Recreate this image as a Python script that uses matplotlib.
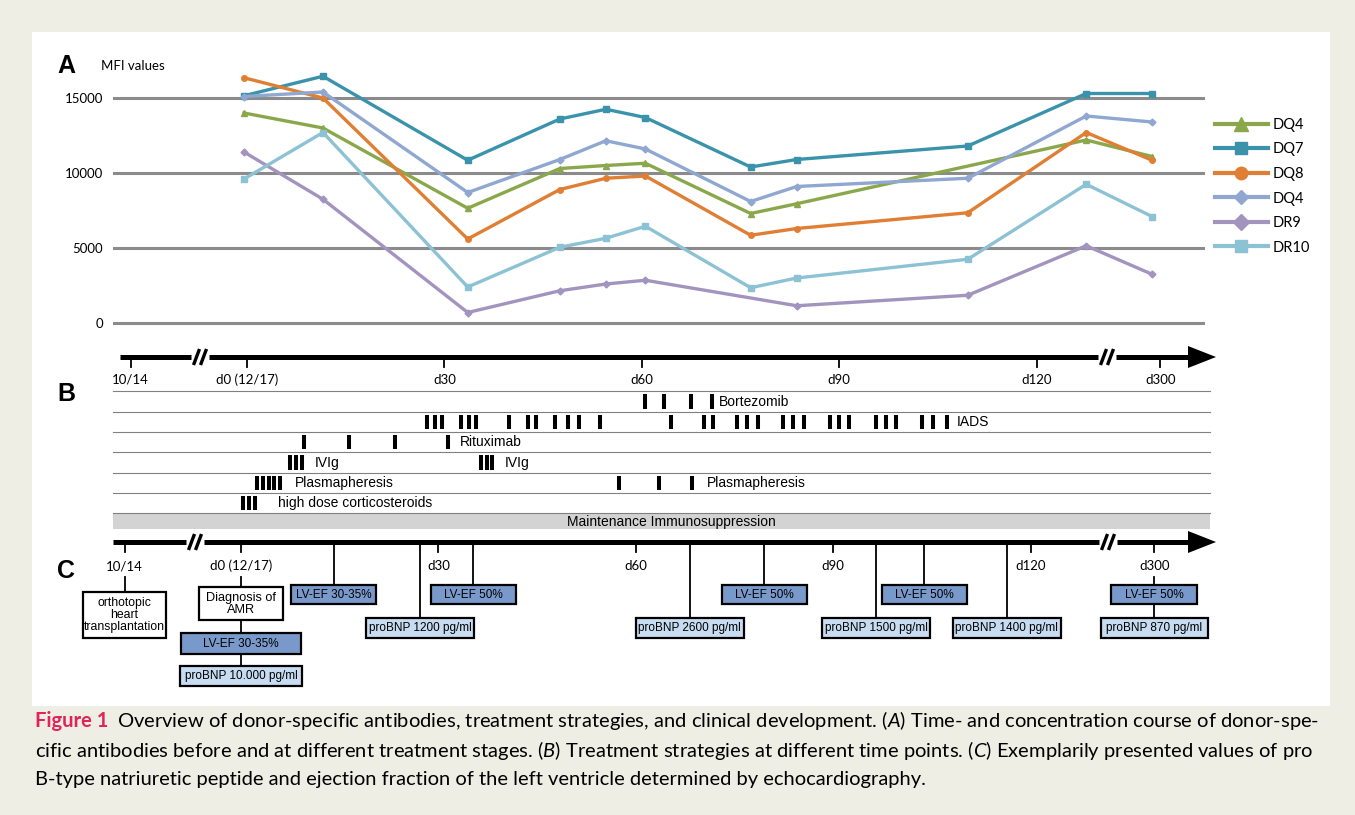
import numpy as np
import matplotlib
matplotlib.use("Agg")
import matplotlib.pyplot as plt
from matplotlib.patches import Rectangle, Polygon
from matplotlib.lines import Line2D

plt.rcParams['font.family'] = ['Liberation Sans', 'DejaVu Sans']
plt.rcParams['mathtext.fontset'] = 'custom'
plt.rcParams['mathtext.rm'] = 'Lato'
plt.rcParams['mathtext.it'] = 'Lato:italic'

W, H = 1355, 815
S = 6.58  # pixels per day, same scale on A, B and C

# ---- A: MFI values of donor-specific antibodies
sample_days = [0, 12, 34, 48, 55, 61, 77, 84, 110, 128, 138]
dsa_names = ['DQ4', 'DQ7', 'DQ8', 'DQ4', 'DR9', 'DR10']
mfi_dq4 = [14000, 13000, 7650, 10300, 10500, 10650, 7300, 7950, np.nan, 12200, 11100]
mfi_dq7 = [15150, 16450, 10850, 13600, 14250, 13700, 10400, 10900, 11800, 15300, 15300]
mfi_dq8 = [16350, 15000, 5600, 8900, 9650, 9800, 5850, 6300, 7350, 12700, 10850]
mfi_dq4b = [15100, 15400, 8700, 10900, 12150, 11600, 8100, 9100, 9650, 13800, 13400]
mfi_dr9 = [11400, 8250, 700, 2150, 2600, 2850, np.nan, 1150, 1850, 5150, 3250]
mfi_dr10 = [9600, 12700, 2400, 5050, 5650, 6450, 2350, 3000, 4250, 9250, 7100]
mfi_ticks = [0, 5000, 10000, 15000]

# ---- timeline ticks (d300 sits behind the axis break)
time_ticks = [-17.7, 0, 30, 60, 90, 120, 138.8]
time_labels = ['10/14', 'd0 (12/17)', 'd30', 'd60', 'd90', 'd120', 'd300']

# ---- B: treatment days
treatments = ['Bortezomib', 'IADS', 'Rituximab', 'IVIg', 'Plasmapheresis',
              'high dose corticosteroids']
bortezomib_days = [60.5, 63.3, 67.5, 70.6]
iads_days = [27.3, 28.5, 29.6, 32.5, 33.7, 34.8, 39.8, 42.7, 43.9, 46.8, 48.8, 50.5, 53.6,
             64.4, 69.4, 70.8, 74.5, 76.0, 77.6, 81.5, 83.0, 84.6, 88.6, 90.0, 91.5,
             95.6, 97.1, 98.7, 102.6, 104.3, 106.4]
rituximab_days = [8.6, 15.5, 22.5, 30.6]
ivig_days = [6.6, 7.5, 8.4, 35.5, 36.4, 37.3]
plasma_days = [1.5, 2.4, 3.3, 4.1, 5.0, 56.5, 62.6, 67.6]
steroid_days = [-0.6, 0.3, 1.2]
label_after = [[3], [30], [3], [2, 5], [4, 7], [2]]  # dose followed by the row label
maintenance = 'Maintenance Immunosuppression'

# ---- C: clinical course
lvef_days = [14.1, 35.3, 79.5, 103.8]
lvef_labels = ['LV-EF 30-35%', 'LV-EF 50%', 'LV-EF 50%', 'LV-EF 50%']
bnp_days = [27.2, 68.2, 96.5, 116.4]
bnp_labels = ['proBNP 1200 pg/ml', 'proBNP 2600 pg/ml', 'proBNP 1500 pg/ml', 'proBNP 1400 pg/ml']
d0_stack = ['Diagnosis of\nAMR', 'LV-EF 30-35%', 'proBNP 10.000 pg/ml']
htx_label = 'orthotopic\nheart\ntransplantation'
d300_stack = ['LV-EF 50%', 'proBNP 870 pg/ml']

caption = [
    'Overview of donor-specific antibodies, treatment strategies, and clinical development. '
    '($\\mathit{A}$) Time- and concentration course of donor-spe-',
    'cific antibodies before and at different treatment stages. ($\\mathit{B}$) Treatment strategies '
    'at different time points. ($\\mathit{C}$) Exemplarily presented values of pro',
    'B-type natriuretic peptide and ejection fraction of the left ventricle determined by echocardiography.',
]

dsa_colors = ['#8aa84b', '#3a93aa', '#e07f34', '#8fa7d1', '#a294be', '#8cc2d4']
dsa_markers = ['^', 's', 'o', 'D', 'D', 's']
lvef_color = '#7a99cb'
bnp_color = '#c7dcf0'


def rect_px(x0, y0, x1, y1):
    return [x0 / W, 1 - y1 / H, (x1 - x0) / W, (y1 - y0) / H]


fig = plt.figure(figsize=(W / 100, H / 100), dpi=100, facecolor='#efeee4')
fig.patches.append(Rectangle((32 / W, 1 - 706 / H), (1330 - 32) / W, (706 - 32) / H,
                             transform=fig.transFigure, facecolor='white', edgecolor='none',
                             zorder=-5))

# ================= A =================
axA = fig.add_axes(rect_px(113, 50, 1205, 330))
axA.patch.set_alpha(0)
axA.set_xlim((113 - 244) / S, (1205 - 244) / S)
axA.set_ylim((323 - 330) / 0.015, (323 - 50) / 0.015)
axA.set_yticks(mfi_ticks)
axA.set_yticklabels([str(t) for t in mfi_ticks], family='Lato', fontsize=9.5)
axA.set_xticks([])
axA.tick_params(axis='y', length=0, pad=7)
for sp in axA.spines.values():
    sp.set_visible(False)
axA.grid(axis='y', color='#8b8b8b', lw=2.2)
axA.set_axisbelow(True)

series = [mfi_dq4, mfi_dq7, mfi_dq8, mfi_dq4b, mfi_dr9, mfi_dr10]
sizes = [4.5, 4, 4, 3.5, 3.5, 5]
leg_sizes = [10, 8, 9, 7, 8, 9]
x = np.array(sample_days, float)
handles = []
for vals, c, m, ms, lms in zip(series, dsa_colors, dsa_markers, sizes, leg_sizes):
    y = np.array(vals, float)
    ok = ~np.isnan(y)
    axA.plot(x[ok], y[ok], color=c, lw=2.4, marker=m, ms=ms, mfc=c, mec=c, zorder=3)
    handles.append(Line2D([], [], color=c, lw=3, marker=m, ms=lms, mfc=c, mec=c))

fig.legend(handles, dsa_names, loc='upper left', bbox_to_anchor=(1215 / W, 1 - 118 / H),
           frameon=False, prop={'family': 'Lato', 'size': 10.5}, handlelength=3.6,
           handletextpad=0.35, labelspacing=0.72, borderpad=0, borderaxespad=0)

fig.text(101 / W, 1 - 66 / H, 'MFI values', family='Lato', fontsize=9.5, va='center')
for lab, py in [('A', 66), ('B', 394), ('C', 571)]:
    fig.text(66 / W, 1 - py / H, lab, weight='bold', fontsize=18, ha='center', va='center')


# ================= timelines =================
def timeline(ax, p0, y, start, brk1, brk2, end, tick_end, label_y):
    d = lambda px: (px - p0) / S
    kw = dict(color='black', lw=3.6, solid_capstyle='butt')
    ax.plot([d(start), d(brk1 - 9)], [y, y], **kw)
    ax.plot([d(brk1 + 9), d(brk2 - 9)], [y, y], **kw)
    ax.plot([d(brk2 + 9), d(end - 26)], [y, y], **kw)
    ax.add_patch(Polygon([[d(end - 28), y - 11], [d(end), y], [d(end - 28), y + 11]],
                         closed=True, facecolor='black', edgecolor='none'))
    for b in (brk1, brk2):
        for off in (-3.5, 3.5):
            ax.plot([d(b + off - 3), d(b + off + 3)], [y + 8, y - 8], color='black',
                    lw=2.4, solid_capstyle='butt')
    for day, lab in zip(time_ticks, time_labels):
        ax.plot([day, day], [y, tick_end], color='black', lw=1.3)
        ax.text(day, label_y, lab, ha='center', va='center', family='Lato', fontsize=9.5)


def make_axes(top, bottom, p0):
    ax = fig.add_axes(rect_px(32, top, 1330, bottom))
    ax.set_xlim((32 - p0) / S, (1330 - p0) / S)
    ax.set_ylim(bottom, top)
    ax.axis('off')
    return ax


# ================= B =================
p0B = 247
axB = make_axes(340, 535, p0B)
timeline(axB, p0B, 357, 120, 200, 1107, 1216, 367, 380)

row_lines = [391, 412, 432, 452, 473, 493, 513]
for yl in row_lines:
    axB.plot([(113 - p0B) / S, (1210 - p0B) / S], [yl, yl], color='#808080', lw=0.8)
axB.add_patch(Rectangle(((113 - p0B) / S, 514), (1210 - 113) / S, 15,
                        facecolor='#d3d3d3', edgecolor='none'))
axB.text((671 - p0B) / S, 522, maintenance, ha='center', va='center', fontsize=10)

all_days = [bortezomib_days, iads_days, rituximab_days, ivig_days, plasma_days, steroid_days]
gaps = [7, 10, 12, 12, 15, 23]
for i, (name, days, idx, gap) in enumerate(zip(treatments, all_days, label_after, gaps)):
    top, bot = row_lines[i], row_lines[i + 1]
    axB.vlines(days, top + 3, bot - 3, color='black', lw=2.9)
    for k in idx:
        axB.text(days[k] + gap / S, (top + bot) / 2 + 0.5, name, ha='left', va='center',
                 fontsize=10)

# ================= C =================
p0C = 241
axC = make_axes(530, 700, p0C)
timeline(axC, p0C, 542, 113, 195, 1108, 1216, 552, 566)


def box(day, y0, y1, wpx, text, fc, size=8.5):
    w = wpx / S
    axC.add_patch(Rectangle((day - w / 2, y0), w, y1 - y0, facecolor=fc,
                            edgecolor='black', lw=1.6, zorder=3))
    axC.text(day, (y0 + y1) / 2, text, ha='center', va='center', fontsize=size,
             linespacing=1.0, zorder=4)


def link(day, y0, y1):
    axC.plot([day, day], [y0, y1], color='black', lw=1.3, zorder=2)


for day, lab in zip(lvef_days, lvef_labels):
    link(day, 542, 585)
    box(day, 585, 604, 85, lab, lvef_color)
for day, lab in zip(bnp_days, bnp_labels):
    link(day, 542, 618)
    box(day, 618, 638, 108, lab, bnp_color)

# 10/14: heart transplantation
t_htx = time_ticks[0]
link(t_htx, 577, 592)
box(t_htx, 592, 638, 83, htx_label, 'white', 8.8)

# d0: diagnosis stack
t0 = time_ticks[1]
link(t0, 577, 587)
box(t0, 587, 620, 84, d0_stack[0], 'white', 9.2)
link(t0, 620, 633)
box(t0, 633, 654, 120, d0_stack[1], lvef_color)
link(t0, 654, 666)
box(t0, 666, 686, 121, d0_stack[2], bnp_color)

# d300 stack
t300 = time_ticks[-1]
link(t300, 577, 585)
box(t300, 585, 604, 86, d300_stack[0], lvef_color)
link(t300, 604, 618)
box(t300, 618, 638, 107, d300_stack[1], bnp_color)

# ================= caption =================
cap_kw = dict(family='Lato', fontsize=14.5, va='center')
t1 = fig.text(35 / W, 1 - 721 / H, 'Figure 1', color='#e0245a', weight='bold', **cap_kw)
axA.annotate(caption[0], xy=(1, 0.5), xycoords=t1, xytext=(6, 0),
             textcoords='offset points', ha='left', annotation_clip=False, **cap_kw)
fig.text(35 / W, 1 - 750 / H, caption[1], **cap_kw)
fig.text(35 / W, 1 - 779 / H, caption[2], **cap_kw)

fig.savefig('out.png', dpi=100, facecolor=fig.get_facecolor())
